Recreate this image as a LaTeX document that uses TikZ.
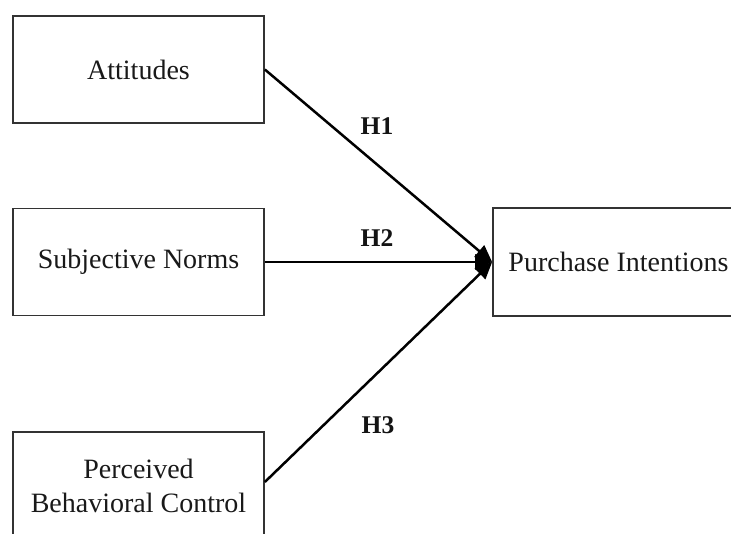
\documentclass[tikz,border=0pt]{standalone}
\usepackage{fontspec}
\setmainfont{Liberation Serif}
\usetikzlibrary{arrows.meta}
\begin{document}
\begin{tikzpicture}[x=1pt,y=-1pt,
  varbox/.style={draw=black!80, line width=1.7pt, minimum width=251pt, minimum height=107pt,
    inner sep=0pt, align=center, text=black!90, font=\fontsize{28}{34}\selectfont},
  path/.style={line width=2.5pt, black, -{Triangle[length=17pt,width=15pt]}},
  hyp/.style={font=\fontsize{25.5}{30}\selectfont\bfseries, text=black!92, inner sep=0pt}]
\useasboundingbox (0,0) rectangle (731,534);
\clip (0,0) rectangle (731,534);
\fill[white] (0,0) rectangle (731,534);
\node[varbox] (att) at (138.5,69.5) {Attitudes};
\node[varbox] (sn) at (138.5,262) {Subjective Norms};
\node[varbox, minimum height=108pt] (pbc) at (138.5,486) {Perceived\\Behavioral Control};
\node[varbox, minimum height=108pt] (pi) at (618.5,262) {Purchase Intentions};
\draw[path] (att.east) -- (pi.west);
\draw[path] (sn.east) -- (pi.west);
\draw[path] ([yshift=4pt]pbc.east) -- (pi.west);
\node[hyp] (h1) at (377,126) {H1};
\node[hyp] (h2) at (377,238) {H2};
\node[hyp] (h3) at (378,425) {H3};
\end{tikzpicture}
\end{document}
